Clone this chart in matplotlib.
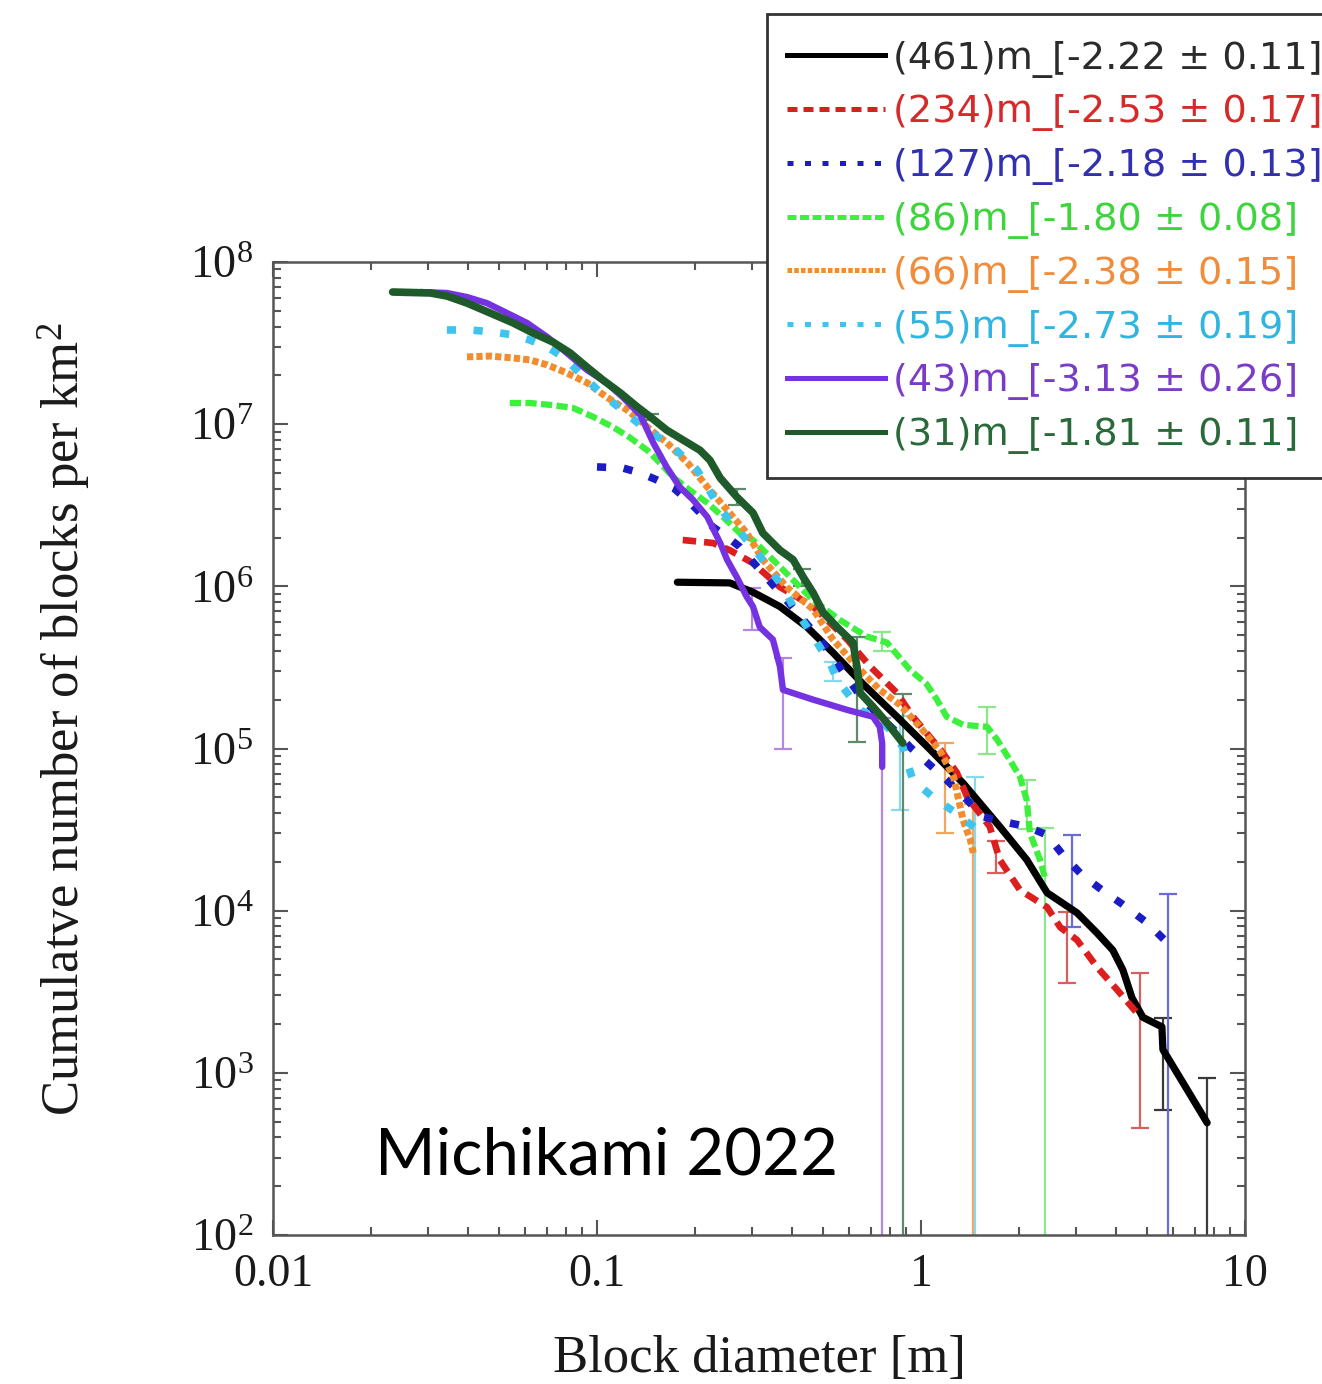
import matplotlib
matplotlib.use('Agg')
import matplotlib.pyplot as plt
from matplotlib.lines import Line2D
from matplotlib.patches import Rectangle
from matplotlib.ticker import FixedLocator, FixedFormatter, LogLocator, NullFormatter
import numpy as np

plt.rcParams['font.family'] = 'Liberation Serif'
plt.rcParams['mathtext.fontset'] = 'custom'
plt.rcParams['mathtext.rm'] = 'Liberation Serif'
plt.rcParams['mathtext.it'] = 'Liberation Serif:italic'
plt.rcParams['mathtext.bf'] = 'Liberation Serif:bold'

# ---------------- data ----------------
labels = ["(461)m_[-2.22 ± 0.11]", "(234)m_[-2.53 ± 0.17]", "(127)m_[-2.18 ± 0.13]",
          "(86)m_[-1.80 ± 0.08]", "(66)m_[-2.38 ± 0.15]", "(55)m_[-2.73 ± 0.19]",
          "(43)m_[-3.13 ± 0.26]", "(31)m_[-1.81 ± 0.11]"]

d461_x = [0.177, 0.257, 0.303, 0.367, 0.445, 0.535, 0.662, 0.843, 1.07, 1.35, 1.75, 2.12, 2.45,
          3.03, 3.49, 3.91, 4.20, 4.48, 4.84, 5.54, 5.58, 6.44, 7.64]
d461_y = [1.06e6, 1.05e6, 9.2e5, 7.5e5, 5.6e5, 3.9e5, 2.5e5, 1.57e5, 9.8e4, 6.1e4, 3.3e4, 2.06e4,
          1.29e4, 9.7e3, 7.3e3, 5.7e3, 4.3e3, 2.9e3, 2.2e3, 1.92e3, 1.39e3, 867, 492]
e461_x = [5.58, 7.64]
e461_y = [1.39e3, 492]
e461_e = [800, 440]

d234_x = [0.184, 0.228, 0.257, 0.303, 0.367, 0.465, 0.592, 0.697, 0.843, 0.944, 1.15, 1.29, 1.39,
          1.63, 1.75, 2.02, 2.45, 2.69, 3.03, 3.49, 4.03, 4.64]
d234_y = [1.93e6, 1.85e6, 1.67e6, 1.39e6, 9.9e5, 7.5e5, 4.7e5, 3.2e5, 2.2e5, 1.57e5, 9.8e4, 7.1e4,
          5.0e4, 3.3e4, 2.06e4, 1.34e4, 1.05e4, 7.9e3, 6.6e3, 4.5e3, 3.25e3, 2.34e3]
e234_x = [1.70, 2.82, 4.74]
e234_y = [2.2e4, 6.7e3, 2.3e3]
e234_e = [5.0e3, 3.1e3, 1.84e3]

d127_x = [0.100, 0.120, 0.136, 0.153, 0.172, 0.190, 0.208, 0.228, 0.252, 0.276, 0.312, 0.385, 0.488,
          0.662, 0.843, 0.925, 1.20, 1.39, 1.55, 1.84, 2.12, 2.45, 2.74, 3.14, 3.62, 4.20, 4.99, 5.78]
d127_y = [5.45e6, 5.37e6, 5.0e6, 4.53e6, 4.05e6, 3.41e6, 2.84e6, 2.32e6, 2.02e6, 1.75e6, 1.32e6,
          8.2e5, 4.7e5, 2.0e5, 1.25e5, 1.02e5, 6.4e4, 4.8e4, 3.8e4, 3.5e4, 3.3e4, 2.93e4, 2.21e4,
          1.66e4, 1.34e4, 1.09e4, 8.4e3, 6.3e3]
e127_x = [2.92, 5.78]
e127_y = [1.86e4, 6.3e3]
e127_e = [1.07e4, 6.3e3]

d86_x = [0.0538, 0.0621, 0.0731, 0.0843, 0.0973, 0.112, 0.126, 0.143, 0.156, 0.172, 0.194, 0.219,
         0.245, 0.276, 0.303, 0.367, 0.465, 0.562, 0.681, 0.785, 0.925, 1.04, 1.12, 1.20, 1.35,
         1.60, 1.72, 1.88, 2.02, 2.12, 2.17, 2.33, 2.41]
d86_y = [1.35e7, 1.35e7, 1.31e7, 1.26e7, 1.11e7, 9.6e6, 8.3e6, 6.9e6, 5.8e6, 4.7e6, 3.9e6, 3.27e6,
         2.68e6, 2.13e6, 1.93e6, 1.32e6, 8.2e5, 6.2e5, 4.9e5, 4.5e5, 3.05e5, 2.5e5, 2.0e5, 1.57e5,
         1.40e5, 1.36e5, 1.13e5, 8.5e4, 6.7e4, 4.8e4, 3.0e4, 2.06e4, 1.61e4]
e86_x = [0.76, 1.60, 2.12, 2.41]
e86_y = [4.6e5, 1.37e5, 4.8e4, 1.61e4]
e86_e = [6.0e4, 4.4e4, 1.6e4, 1.61e4]

d66_x = [0.0397, 0.0468, 0.0551, 0.0621, 0.0702, 0.0807, 0.0931, 0.107, 0.124, 0.143, 0.164, 0.190,
         0.219, 0.252, 0.290, 0.325, 0.385, 0.465, 0.535, 0.634, 0.746, 0.861, 0.993, 1.15, 1.26,
         1.35, 1.42, 1.45]
d66_y = [2.6e7, 2.63e7, 2.56e7, 2.49e7, 2.32e7, 2.07e7, 1.80e7, 1.47e7, 1.22e7, 9.6e6, 7.7e6, 5.8e6,
         4.1e6, 2.96e6, 2.13e6, 1.46e6, 9.9e5, 7.2e5, 4.7e5, 3.2e5, 2.3e5, 1.86e5, 1.36e5, 9.5e4,
         6.7e4, 3.6e4, 2.73e4, 2.27e4]
e66_x = [1.19, 1.45]
e66_y = [6.9e4, 2.27e4]
e66_e = [3.9e4, 2.27e4]

d55_x = [0.0344, 0.0406, 0.0478, 0.0551, 0.0621, 0.0702, 0.0785, 0.102, 0.136, 0.172, 0.204, 0.219,
         0.234, 0.257, 0.303, 0.342, 0.375, 0.403, 0.445, 0.488, 0.524, 0.551, 0.592, 0.649, 0.746,
         0.820, 0.879, 0.906, 0.944, 1.09, 1.26, 1.47]
d55_y = [3.81e7, 3.81e7, 3.70e7, 3.55e7, 3.30e7, 2.99e7, 2.6e7, 1.58e7, 9.9e6, 7.2e6, 5.2e6, 4.1e6,
         3.27e6, 2.53e6, 1.75e6, 1.26e6, 9.9e5, 7.5e5, 5.6e5, 4.2e5, 3.37e5, 2.65e5, 2.2e5, 1.73e5,
         1.50e5, 1.25e5, 1.02e5, 8.2e4, 6.4e4, 5.0e4, 4.1e4, 3.24e4]
e55_x = [0.535, 0.861, 1.47]
e55_y = [3.0e5, 1.0e5, 3.24e4]
e55_e = [4.0e4, 5.8e4, 3.4e4]

d43_x = [0.0285, 0.0344, 0.0397, 0.0457, 0.0527, 0.0608, 0.0702, 0.0807, 0.0931, 0.107, 0.120, 0.136,
         0.149, 0.164, 0.180, 0.198, 0.219, 0.240, 0.252, 0.270, 0.290, 0.303, 0.318, 0.349, 0.367,
         0.375, 0.465, 0.592, 0.711, 0.746, 0.759, 0.759]
d43_y = [6.53e7, 6.44e7, 6.08e7, 5.58e7, 4.85e7, 4.21e7, 3.45e7, 2.75e7, 2.16e7, 1.80e7, 1.47e7,
         1.14e7, 7.7e6, 5.45e6, 4.1e6, 3.41e6, 2.68e6, 1.85e6, 1.46e6, 1.14e6, 8.6e5, 7.5e5, 5.6e5,
         4.7e5, 3.2e5, 2.3e5, 2.0e5, 1.73e5, 1.57e5, 1.36e5, 1.08e5, 7.7e4]
e43_x = [0.30, 0.375, 0.759]
e43_y = [7.6e5, 2.3e5, 7.7e4]
e43_e = [2.2e5, 1.3e5, 7.7e4]

d31_x = [0.0234, 0.0306, 0.0344, 0.0397, 0.0468, 0.0551, 0.0634, 0.0731, 0.0826, 0.0931, 0.104, 0.118,
         0.133, 0.146, 0.164, 0.184, 0.208, 0.223, 0.240, 0.270, 0.303, 0.325, 0.367, 0.403, 0.433,
         0.465, 0.499, 0.551, 0.617, 0.634, 0.649, 0.711, 0.785, 0.879]
d31_y = [6.53e7, 6.44e7, 6.17e7, 5.58e7, 4.85e7, 4.21e7, 3.65e7, 3.21e7, 2.75e7, 2.25e7, 1.88e7,
         1.56e7, 1.28e7, 1.11e7, 9.2e6, 8.0e6, 6.9e6, 6.0e6, 4.66e6, 3.56e6, 2.84e6, 2.13e6, 1.67e6,
         1.46e6, 1.14e6, 9.1e5, 6.9e5, 5.6e5, 4.5e5, 3.2e5, 2.2e5, 1.81e5, 1.44e5, 1.08e5]
e31_x = [0.146, 0.27, 0.43, 0.634, 0.879]
e31_y = [1.11e7, 3.56e6, 1.14e6, 3.0e5, 1.08e5]
e31_e = [5.0e5, 4.0e5, 1.3e5, 1.9e5, 1.08e5]

x_ticks = [0.01, 0.1, 1, 10]
x_tick_labels = ["0.01", "0.1", "1", "10"]
y_ticks = [1e2, 1e3, 1e4, 1e5, 1e6, 1e7, 1e8]
y_tick_labels = [r"$\mathregular{10^{%d}}$" % k for k in range(2, 9)]

# ---------------- styles ----------------
series = [
    (d461_x, d461_y, e461_x, e461_y, e461_e, '#000000', '#3a3a3a', '#2b2b2b', 5.2, None),
    (d234_x, d234_y, e234_x, e234_y, e234_e, '#dc1e1e', '#d66060', '#d42a2a', 4.8, (2.0, 1.2)),
    (d127_x, d127_y, e127_x, e127_y, e127_e, '#1c1cc4', '#6a6ad8', '#3030b0', 5.5, (1.2, 2.3)),
    (d86_x, d86_y, e86_x, e86_y, e86_e, '#3cf03c', '#8ae88a', '#3ed43e', 4.5, (1.8, 0.7)),
    (d66_x, d66_y, e66_x, e66_y, e66_e, '#f28c2c', '#f0a860', '#f08c3a', 5.0, (0.9, 0.45)),
    (d55_x, d55_y, e55_x, e55_y, e55_e, '#3ec4ee', '#8ad8f0', '#30b4e0', 5.5, (1.2, 2.3)),
    (d43_x, d43_y, e43_x, e43_y, e43_e, '#7432e0', '#b488e0', '#7a3cc8', 4.6, None),
    (d31_x, d31_y, e31_x, e31_y, e31_e, '#1f5a2a', '#5f8a6a', '#2a6a3a', 5.5, None),
]

W, H = 1322, 1384
fig = plt.figure(figsize=(W / 100, H / 100), dpi=100)
ax = fig.add_axes([273 / W, 1 - 1235 / H, 972 / W, 973 / H])
ax.set_xscale('log')
ax.set_yscale('log')

handles = []
for (x, y, ex, ey, ee, c, ec, tc, lw, dash) in series:
    ax.errorbar(ex, ey, yerr=ee, fmt='none', ecolor=ec, elinewidth=1.6,
                capsize=6.5, capthick=1.6, zorder=2)
    if dash is None:
        ax.plot(x, y, color=c, lw=lw, solid_joinstyle='round', solid_capstyle='round', zorder=3)
        handles.append(Line2D([], [], color=c, lw=3.6))
    else:
        ax.plot(x, y, color=c, lw=lw, linestyle='--', dashes=dash, zorder=3)
        handles.append(Line2D([], [], color=c, lw=3.6, linestyle='--', dashes=dash))

ax.set_xlim(0.01, 10)
ax.set_ylim(1e2, 1e8)

ax.xaxis.set_major_locator(FixedLocator(x_ticks))
ax.xaxis.set_major_formatter(FixedFormatter(x_tick_labels))
ax.yaxis.set_major_locator(FixedLocator(y_ticks))
ax.yaxis.set_major_formatter(FixedFormatter(y_tick_labels))
ax.xaxis.set_minor_locator(LogLocator(base=10, subs=np.arange(2, 10), numticks=20))
ax.yaxis.set_minor_locator(LogLocator(base=10, subs=np.arange(2, 10), numticks=20))
ax.xaxis.set_minor_formatter(NullFormatter())
ax.yaxis.set_minor_formatter(NullFormatter())

ax.tick_params(which='both', direction='in', top=True, right=True, color='#555555', width=1.5)
ax.tick_params(which='major', length=11, labelsize=33, colors='#555555', labelcolor='#1a1a1a')
ax.tick_params(axis='x', which='major', pad=13)
ax.tick_params(axis='y', which='major', pad=14)
ax.tick_params(which='minor', length=6)
for s in ax.spines.values():
    s.set_color('#555555')
    s.set_linewidth(1.8)

ax.set_xlabel("Block diameter [m]", fontsize=38, color='#1a1a1a')
ax.set_ylabel(r"Cumulatve number of blocks per km$^{\mathregular{2}}$", fontsize=38, color='#1a1a1a')
ax.xaxis.set_label_coords(0.5, -0.103)
ax.yaxis.set_label_coords(-0.185, 0.53)

ax.text(0.343, 0.0617, "Michikami 2022", transform=ax.transAxes, ha='center', va='baseline',
        fontsize=47, family='Lato', color='black', zorder=5)

# legend frame (runs past the right edge of the figure, as in the original)
frame = Rectangle((767 / W, 1 - 478 / H), (1340 - 767) / W, (478 - 14) / H,
                  transform=fig.transFigure, facecolor='white', edgecolor='#333333',
                  linewidth=2, zorder=4)
fig.add_artist(frame)

leg = fig.legend(handles, labels, loc='upper left', bbox_to_anchor=(787 / W, 1 - 40.5 / H),
                 prop={'family': 'DejaVu Sans', 'size': 27.5}, frameon=False,
                 handlelength=2.57, handletextpad=0.2,
                 labelspacing=0.44, borderpad=0, borderaxespad=0)
leg.set_zorder(5)
for t, s in zip(leg.get_texts(), series):
    t.set_color(s[7])

fig.savefig('out.png', dpi=100)
